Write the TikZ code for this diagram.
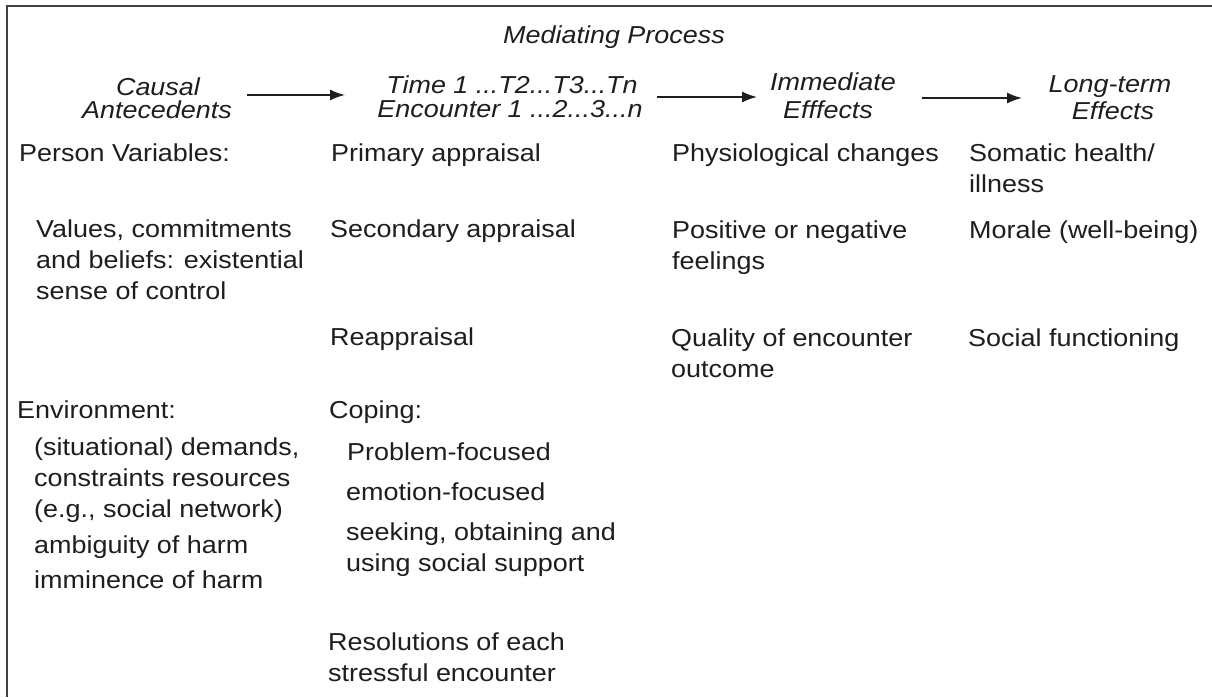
\documentclass[tikz,border=0pt]{standalone}
\usepackage{fontspec}
\setmainfont{Liberation Sans}[FakeStretch=1.10]
\usetikzlibrary{arrows.meta}
\definecolor{ink}{HTML}{1E1E1E}
\begin{document}
\begin{tikzpicture}[x=1pt,y=-1pt,
  txt/.style={inner sep=0pt, anchor=base west, text=ink, font=\fontsize{24.5}{29}\selectfont},
  hd/.style={inner sep=0pt, anchor=base, text=ink, font=\fontsize{24.5}{29}\selectfont\itshape},
  flow/.style={draw=ink, line width=1.6pt, -{Latex[length=15pt,width=11pt]}},
  frameline/.style={draw=ink!85, line width=1.5pt}]
\useasboundingbox (0,0) rectangle (1212,697);
\fill[white] (0,0) rectangle (1212,697);
\draw[frameline] (7,697) -- (7,6) -- (1212,6);

% header
\node[hd] (mp) at (614,43) {Mediating Process};
\node[hd] (ca1) at (158,95) {Causal};
\node[hd] (ca2) at (157,118) {Antecedents};
\node[hd] (tm1) at (512,93) {Time 1 ...T2...T3...Tn};
\node[hd] (tm2) at (510,117) {Encounter 1 ...2...3...n};
\node[hd] (ie1) at (833,90) {Immediate};
\node[hd] (ie2) at (828,118) {Efffects};
\node[hd] (le1) at (1110,92) {Long-term};
\node[hd] (le2) at (1113,119) {Effects};

\coordinate (a1s) at (247,95); \coordinate (a1e) at (345,95);
\coordinate (a2s) at (657,97); \coordinate (a2e) at (757,97);
\coordinate (a3s) at (922,98); \coordinate (a3e) at (1022,98);
\draw[flow] (a1s) -- (a1e);
\draw[flow] (a2s) -- (a2e);
\draw[flow] (a3s) -- (a3e);

% column 1
\node[txt] (pv) at (19,161) {Person Variables:};
\node[txt] (v1) at (36,237) {Values, commitments};
\node[txt] (v2) at (36,268) {and beliefs: existential};
\node[txt] (v3) at (36,299) {sense of control};
\node[txt] (en) at (17,418) {Environment:};
\node[txt] (s1) at (34,455) {(situational) demands,};
\node[txt] (s2) at (34,486) {constraints resources};
\node[txt] (s3) at (34,517) {(e.g., social network)};
\node[txt] (am) at (34,553) {ambiguity of harm};
\node[txt] (im) at (34,588) {imminence of harm};

% column 2
\node[txt] (pa) at (331,161) {Primary appraisal};
\node[txt] (sa) at (330,237) {Secondary appraisal};
\node[txt] (ra) at (330,345) {Reappraisal};
\node[txt] (cp) at (329,418) {Coping:};
\node[txt] (pf) at (347,460) {Problem-focused};
\node[txt] (ef) at (346,500) {emotion-focused};
\node[txt] (so1) at (346,540) {seeking, obtaining and};
\node[txt] (so2) at (346,571) {using social support};
\node[txt] (re1) at (328,650) {Resolutions of each};
\node[txt] (re2) at (328,681) {stressful encounter};

% column 3
\node[txt] (ph) at (672,161) {Physiological changes};
\node[txt] (po1) at (672,238) {Positive or negative};
\node[txt] (po2) at (672,269) {feelings};
\node[txt] (qu1) at (671,346) {Quality of encounter};
\node[txt] (qu2) at (671,377) {outcome};

% column 4
\node[txt] (sh1) at (969,161) {Somatic health/};
\node[txt] (sh2) at (969,192) {illness};
\node[txt] (mo) at (969,238) {Morale (well-being)};
\node[txt] (sf) at (968,346) {Social functioning};
\end{tikzpicture}
\end{document}
